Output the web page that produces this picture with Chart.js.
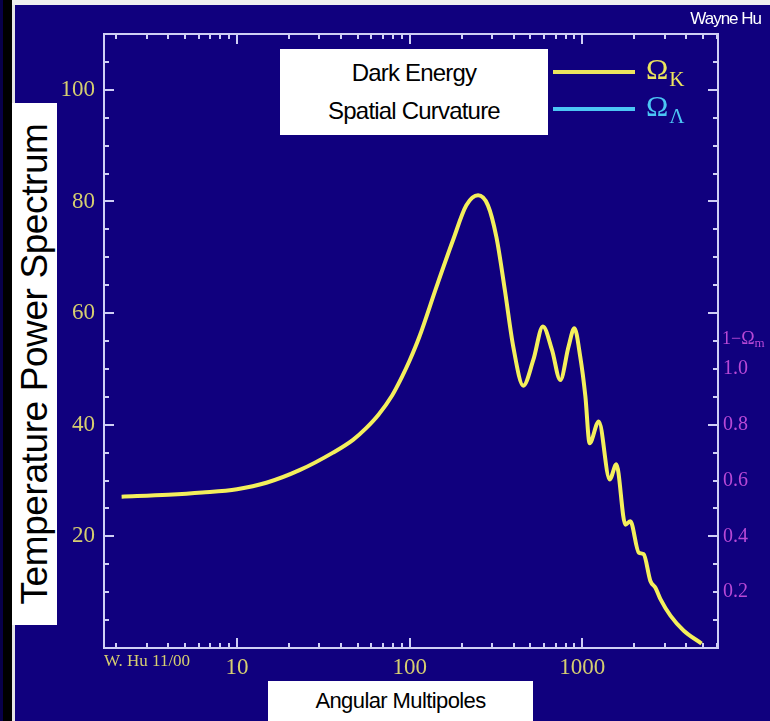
<!DOCTYPE html>
<html lang="en">
<head>
<meta charset="UTF-8">
<title>Temperature Power Spectrum</title>
<script src="https://cdn.jsdelivr.net/npm/chart.js"></script>
<style>
    * { margin: 0; padding: 0; box-sizing: border-box; }
    body { width: 770px; height: 721px; overflow: hidden; background: #10007e; position: relative; font-family: 'Liberation Sans', Arial, sans-serif; }

    /* slide edges */
    .edge-dark { position: absolute; left: 0; top: 0; width: 4px; height: 721px; background: #08004a; }
    .edge-black { position: absolute; left: 3px; top: 0; width: 9px; height: 721px; background: #000; }
    .edge-light { position: absolute; left: 12px; top: 0; width: 3px; height: 721px; background: #e4e4e4; }
    .top-strip { position: absolute; left: 12px; top: 0; right: 0; height: 5px; background: #efefef; }

    #wrap { position: absolute; left: 0; top: 0; width: 770px; height: 721px; }

    .box { position: absolute; background: #fff; color: #000; display: flex; align-items: center; justify-content: center; }
    .ytitle { left: 12px; top: 103px; width: 45px; height: 522px; }
    .ytitle span { transform: rotate(-90deg); white-space: nowrap; font-size: 37px; letter-spacing: -0.4px; }
    .xtitle { left: 268px; top: 681px; width: 265px; height: 40px; font-size: 22px; letter-spacing: -0.6px; }
    .legend-box { left: 280px; top: 49px; width: 268px; height: 86px; flex-direction: column; font-size: 24px; line-height: 38px; letter-spacing: -0.8px; }
    .signature { position: absolute; right: 9px; top: 9px; color: #fff; font-size: 17px; letter-spacing: -1px; }
</style>
</head>
<body>

<div class="edge-dark"></div>
<div class="edge-black"></div>
<div class="edge-light"></div>
<div class="top-strip"></div>

<div id="wrap"><canvas id="spectrum"></canvas></div>

<div class="box ytitle"><span>Temperature Power Spectrum</span></div>
<div class="box xtitle">Angular Multipoles</div>
<div class="box legend-box"><div>Dark Energy</div><div>Spatial Curvature</div></div>
<div class="signature">Wayne Hu</div>

<script>
    // Data
    const multipoles = [2.15, 4, 6.3, 10, 14.8, 23.2, 36, 47, 56, 66, 79, 91, 100, 114, 143, 178, 213, 249, 284, 318, 356, 398, 455,
        520, 591, 667, 745, 832, 899, 972, 1041, 1102, 1244, 1440, 1573, 1775, 1896, 2120, 2264, 2477, 2649, 2832, 3236, 3866, 4900];
    const power = [27.1, 27.45, 27.85, 28.45, 29.6, 31.9, 35.0, 37.3, 39.4, 41.8, 45.2, 48.8, 51.5, 55.8, 64.7, 73.0, 79.3, 81.1, 79.3, 73.6, 64.1, 54.0, 47.0,
        51.6, 57.6, 53.4, 48.0, 54.0, 57.3, 52.2, 45.1, 36.7, 40.6, 30.2, 32.9, 22.1, 22.7, 17.1, 16.8, 12.0, 10.8, 8.75, 5.8, 3.1, 0.8];

    const xTickValues = [10, 100, 1000];
    const xTickLabels = ['10', '100', '1000'];
    const yTickValues = [20, 40, 60, 80, 100];
    const curvatureTicks = [0.2, 0.4, 0.6, 0.8, 1.0];

    const legendNames = ['\u03A9', '\u03A9'];
    const legendSubs = ['K', '\u039B'];
    const legendColors = ['#ece45e', '#4cc6f4'];

    const frameColor = '#cfcff4';
    const tickColor = '#d6ce70';
    const magenta = '#b848d6';
    const serif = '"Liberation Serif", "Times New Roman", serif';

    // frame with inward ticks, tick labels and the legend
    const axisFrame = {
        id: 'axisFrame',
        afterDatasetsDraw(chart) {
            const { ctx, chartArea: a, scales: { x, y, y2 } } = chart;
            const line = (x1, y1, x2, y2_) => { ctx.beginPath(); ctx.moveTo(x1, y1); ctx.lineTo(x2, y2_); ctx.stroke(); };
            ctx.save();
            ctx.strokeStyle = frameColor;
            ctx.lineWidth = 2;
            ctx.strokeRect(a.left, a.top, a.right - a.left, a.bottom - a.top);

            for (let d = 1; d <= 1000; d *= 10) {
                for (let m = 1; m <= 9; m++) {
                    const v = m * d;
                    if (v <= x.min || v >= x.max) continue;
                    const px = Math.round(x.getPixelForValue(v));
                    const len = m === 1 ? 10 : 5;
                    line(px, a.bottom, px, a.bottom - len);
                    line(px, a.top, px, a.top + len);
                }
            }
            for (let v = 5; v < y.max; v += 5) {
                const py = Math.round(y.getPixelForValue(v));
                const len = v % 20 === 0 ? 10 : 5;
                line(a.left, py, a.left + len, py);
                line(a.right, py, a.right - len, py);
            }

            // left + bottom labels
            ctx.fillStyle = tickColor;
            ctx.font = '23px ' + serif;
            ctx.textAlign = 'right';
            ctx.textBaseline = 'middle';
            yTickValues.forEach(v => ctx.fillText(String(v), a.left - 9, y.getPixelForValue(v)));
            ctx.textAlign = 'center';
            xTickValues.forEach((v, i) => ctx.fillText(xTickLabels[i], x.getPixelForValue(v), a.bottom + 20));
            ctx.font = '17px ' + serif;
            ctx.textAlign = 'left';
            ctx.fillText('W. Hu 11/00', a.left, a.bottom + 14);

            // right axis: 1 - Omega_m
            ctx.fillStyle = magenta;
            ctx.font = '20px ' + serif;
            curvatureTicks.forEach(v => ctx.fillText(v.toFixed(1), a.right + 5, y2.getPixelForValue(v)));
            ctx.font = '18px ' + serif;
            const ly = y2.getPixelForValue(1.1) - 2;
            ctx.fillText('1\u2212\u03A9', a.right + 4, ly);
            const w = ctx.measureText('1\u2212\u03A9').width;
            ctx.font = '13px ' + serif;
            ctx.fillText('m', a.right + 4 + w, ly + 5);

            // legend lines
            ctx.lineWidth = 4;
            legendNames.forEach((name, i) => {
                const ty = 72 + i * 37;
                ctx.strokeStyle = legendColors[i];
                line(553, ty, 635, ty);
                ctx.fillStyle = legendColors[i];
                ctx.font = '30px ' + serif;
                ctx.fillText(name, 646, ty - 1);
                const nw = ctx.measureText(name).width;
                ctx.font = '21px ' + serif;
                ctx.fillText(legendSubs[i], 646 + nw + 1, ty + 8);
            });
            ctx.restore();
        }
    };

    new Chart(document.getElementById('spectrum'), {
        type: 'line',
        data: {
            datasets: [{
                label: '\u03A9K',
                data: multipoles.map((l, i) => ({ x: l, y: power[i] })),
                borderColor: '#f4ef5c',
                borderWidth: 4,
                pointRadius: 0,
                fill: false,
                cubicInterpolationMode: 'monotone'
            }]
        },
        options: {
            responsive: true,
            maintainAspectRatio: false,
            animation: false,
            layout: { padding: { left: 104, top: 34, right: 52, bottom: 73 } },
            plugins: { legend: { display: false }, tooltip: { enabled: false } },
            scales: {
                x: { type: 'logarithmic', min: 1.7, max: 6100, display: false },
                y: { min: 0, max: 110, display: false },
                y2: { min: 0, max: 2.2, display: false, position: 'right' }
            }
        },
        plugins: [axisFrame]
    });
</script>

</body>
</html>
